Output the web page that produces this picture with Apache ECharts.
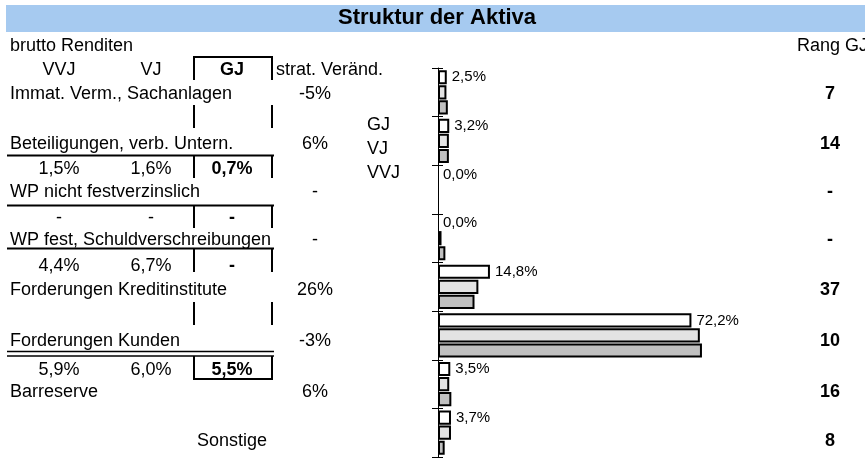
<!DOCTYPE html>
<html>
<head>
<meta charset="utf-8">
<script src="https://cdn.jsdelivr.net/npm/echarts@6/dist/echarts.min.js"></script>
<style>
  html, body { margin: 0; padding: 0; background: #fff; }
  #chart { width: 865px; height: 461px; }
</style>
</head>
<body>
<div id="chart"></div>
<script>
// Kategorien (von oben nach unten)
var categories = [
  "Immat. Verm., Sachanlagen",
  "Beteiligungen, verb. Untern.",
  "WP nicht festverzinslich",
  "WP fest, Schuldverschreibungen",
  "Forderungen Kreditinstitute",
  "Forderungen Kunden",
  "Barreserve",
  "Sonstige"
];
// Anteil an der Bilanz in %
var shareGJ = [2.5, 3.2, 0.0, 0.0, 14.8, 72.2, 3.5, 3.7];
var shareVJ = [2.4, 3.1, 0.0, 1.0, 11.5, 74.6, 3.2, 3.7];
var shareVVJ = [2.8, 3.1, 0.0, 2.1, 10.4, 75.2, 3.8, 1.9];
// brutto Renditen (Zeile unter der Kategorie)
var returnVVJ = ["", "1,5%", "-", "4,4%", "", "5,9%", ""];
var returnVJ = ["", "1,6%", "-", "6,7%", "", "6,0%", ""];
var returnGJ = ["", "0,7%", "-", "-", "", "5,5%", ""];
var stratChange = ["-5%", "6%", "-", "-", "26%", "-3%", "6%", ""];
var rankGJ = ["7", "14", "-", "-", "37", "10", "16", "8"];
var yearNames = ["VVJ", "VJ", "GJ"];

// Layout der Tabelle links
var FONT = '"Liberation Sans", Arial, sans-serif';
var FS = 18;
var nameY = [94, 144, 192, 240, 290, 341, 392, 441];
var retY = [117, 169, 218, 266, 314, 370, 416];
var colX = [59, 151, 232];
var cellL = 194, cellR = 272;
var vSpans = [[105, 128], [155, 178], [206, 228], [248, 272], [302, 325], [356, 379]];

function txt(s, x, y, align, bold, size) {
  return {
    type: "text",
    style: {
      text: s, x: x, y: y,
      font: (bold ? "bold " : "") + (size || FS) + "px " + FONT,
      fill: "#000",
      textAlign: align, align: align,
      textVerticalAlign: "middle", verticalAlign: "middle"
    }
  };
}
function line(x1, y1, x2, y2, w) {
  return {
    type: "line",
    shape: { x1: x1, y1: y1, x2: x2, y2: y2 },
    style: { stroke: "#000", lineWidth: w || 2 }
  };
}

var g = [];
g.push({ type: "rect", z: -1, shape: { x: 6, y: 5, width: 859, height: 27 }, style: { fill: "#a6caf0" } });
g.push(txt("brutto Renditen", 10, 46, "left"));
g.push(txt("Rang GJ", 797, 46, "left"));
g.push(txt(yearNames[0], colX[0], 70, "center"));
g.push(txt(yearNames[1], colX[1], 70, "center"));
g.push(txt(yearNames[2], colX[2], 70, "center", true));
g.push(txt("strat. Veränd.", 276, 70, "left"));
// Rahmen GJ-Spalte
g.push(line(cellL - 1, 57, cellR + 1, 57));
g.push(line(cellL, 57, cellL, 80));
g.push(line(cellR, 57, cellR, 80));
vSpans.forEach(function (s) {
  g.push(line(cellL, s[0], cellL, s[1]));
  g.push(line(cellR, s[0], cellR, s[1]));
});
g.push(line(cellL - 1, 379, cellR + 1, 379));
// horizontale Linien
g.push(line(7, 155.5, 274, 155.5));
g.push(line(7, 205.5, 274, 205.5));
g.push(line(7, 248.5, 274, 248.5));
g.push(line(7, 351.5, 274, 351.5, 1.5));
g.push(line(7, 356, 274, 356, 1.5));

for (var i = 0; i < categories.length; i++) {
  if (i === categories.length - 1) {
    g.push(txt(categories[i], colX[2], nameY[i], "center"));
  } else {
    g.push(txt(categories[i], 10, nameY[i], "left"));
  }
  g.push(txt(stratChange[i], 315, nameY[i], "center"));
  g.push(txt(rankGJ[i], 830, nameY[i], "center", true));
}
for (var j = 0; j < retY.length; j++) {
  g.push(txt(returnVVJ[j], colX[0], retY[j], "center"));
  g.push(txt(returnVJ[j], colX[1], retY[j], "center"));
  g.push(txt(returnGJ[j], colX[2], retY[j], "center", true));
}

function barData(arr) {
  return arr.map(function (v) {
    return v === 0 ? { value: v, itemStyle: { borderWidth: 0 } } : v;
  });
}
function pct(v) {
  return v.toFixed(1).replace(".", ",") + "%";
}

var chart = echarts.init(document.getElementById("chart"), null, { renderer: "canvas" });
chart.setOption({
  animation: false,
  title: {
    text: "Struktur der Aktiva",
    left: 338,
    top: 7,
    padding: 0,
    textStyle: { fontFamily: FONT, fontWeight: "bold", fontSize: 22, color: "#000" }
  },
  legend: {
    orient: "vertical",
    left: 357,
    top: 111,
    icon: "none",
    itemWidth: 0,
    itemHeight: 17,
    itemGap: 6,
    selectedMode: false,
    data: ["GJ", "VJ", "VVJ"],
    textStyle: { fontFamily: FONT, fontSize: FS, color: "#000" }
  },
  grid: { left: 438, top: 68, width: 351, height: 389 },
  xAxis: { type: "value", min: 0, max: 100, show: false },
  yAxis: [
    {
      type: "category", inverse: true, data: categories,
      axisLabel: { show: false },
      axisLine: { show: true, lineStyle: { color: "#000", width: 1 } },
      axisTick: { show: true, length: 6, lineStyle: { color: "#000" } }
    },
    {
      type: "category", inverse: true, data: categories, position: "left",
      axisLabel: { show: false },
      axisLine: { show: false },
      axisTick: { show: true, inside: true, length: 5, lineStyle: { color: "#000" } }
    }
  ],
  series: [
    {
      name: "GJ", type: "bar", data: barData(shareGJ),
      barWidth: 14.2, barGap: "6%",
      itemStyle: { color: "#ffffff", borderColor: "#000", borderWidth: 2 },
      label: {
        show: true, position: "right", distance: 5,
        fontFamily: FONT, fontSize: 15, color: "#000",
        formatter: function (p) { return pct(p.value); }
      }
    },
    {
      name: "VJ", type: "bar", data: barData(shareVJ),
      barWidth: 14.2, barGap: "6%",
      itemStyle: { color: "#e3e3e3", borderColor: "#000", borderWidth: 2 }
    },
    {
      name: "VVJ", type: "bar", data: barData(shareVVJ),
      barWidth: 14.2, barGap: "6%",
      itemStyle: { color: "#c0c0c0", borderColor: "#000", borderWidth: 2 }
    }
  ],
  graphic: g
});
</script>
</body>
</html>
